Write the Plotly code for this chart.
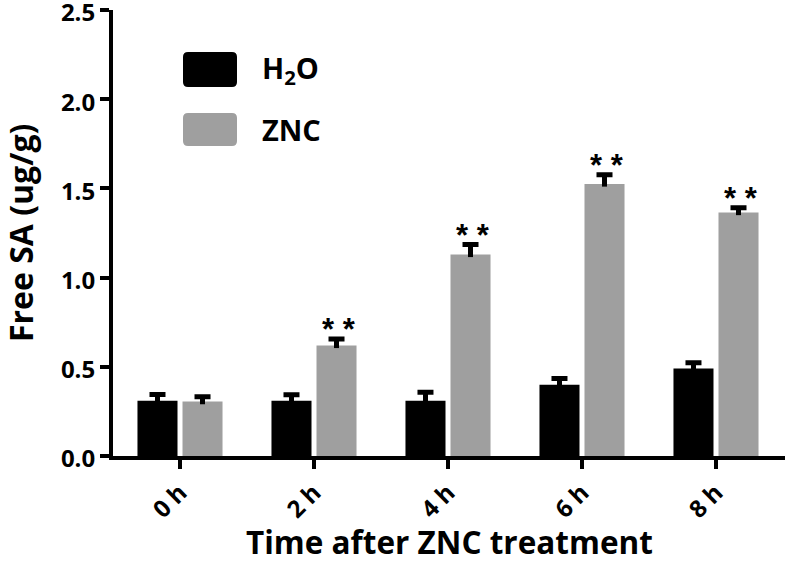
import plotly.graph_objects as go

categories = ["0 h", "2 h", "4 h", "6 h", "8 h"]
h2o = [0.31, 0.31, 0.31, 0.40, 0.49]
h2o_err = [0.035, 0.033, 0.048, 0.035, 0.033]
znc = [0.305, 0.62, 1.13, 1.525, 1.365]
znc_err = [0.027, 0.036, 0.055, 0.051, 0.027]
sig = ["", "* *", "* *", "* *", "* *"]
y_ticks = [0.0, 0.5, 1.0, 1.5, 2.0, 2.5]

BLACK = "#000000"
GRAY = "#9f9f9f"
FONT = "Open Sans"

W, H = 787, 572
ML, MR, MT, MB = 113, 2, 10, 116
PW, PH = W - ML - MR, H - MT - MB

fig = go.Figure()

def add_series(name, vals, errs, color, group):
    # bar with error stem (no caps)
    fig.add_trace(go.Bar(
        x=categories, y=vals, name=name, offsetgroup=group,
        marker=dict(color=color, cornerradius=4, line=dict(width=0)),
        error_y=dict(type="data", array=errs, symmetric=False, arrayminus=[0.015] * len(vals),
                     color=BLACK, thickness=5, width=0),
    ))
    # caps only (zero-length error bar drawn at the top of the error)
    fig.add_trace(go.Bar(
        x=categories, y=[v + e for v, e in zip(vals, errs)], name=name + " cap",
        offsetgroup=group, marker=dict(color="rgba(0,0,0,0)", line=dict(width=0)),
        hoverinfo="skip", showlegend=False,
        error_y=dict(type="data", array=[0] * len(vals), symmetric=True,
                     color=BLACK, thickness=5, width=8),
    ))

add_series("H2O", h2o, h2o_err, BLACK, "h2o")
add_series("ZNC", znc, znc_err, GRAY, "znc")

# significance stars
for c, v, e, s in zip(categories, znc, znc_err, sig):
    if s:
        fig.add_annotation(x=c, y=v + e, xref="x", yref="y", text=s, showarrow=False,
                           xshift=25, yanchor="bottom", yshift=-10,
                           font=dict(family="Liberation Sans", size=31, color=BLACK, weight="bold"))

# custom legend (big rounded swatches)
def px2paper(px, py):
    return (px - ML) / PW, (H - MB - py) / PH

def rounded_rect(x0, y0, x1, y1, r=5):
    def P(x, y):
        a, b = px2paper(x, y)
        return f"{a:.5f},{b:.5f}"
    return (f"M {P(x0 + r, y0)} L {P(x1 - r, y0)} Q {P(x1, y0)} {P(x1, y0 + r)} "
            f"L {P(x1, y1 - r)} Q {P(x1, y1)} {P(x1 - r, y1)} L {P(x0 + r, y1)} "
            f"Q {P(x0, y1)} {P(x0, y1 - r)} L {P(x0, y0 + r)} Q {P(x0, y0)} {P(x0 + r, y0)} Z")

legend_items = [("H<sub>2</sub>O", BLACK, 52, 87), ("ZNC", GRAY, 113, 146)]
for label, col, y0, y1 in legend_items:
    fig.add_shape(type="path", xref="paper", yref="paper", path=rounded_rect(183, y0, 237, y1),
                  fillcolor=col, line=dict(width=0))
    tx, ty = px2paper(260, (y0 + y1) / 2)
    fig.add_annotation(x=tx, y=ty, xref="paper", yref="paper", text=label, showarrow=False,
                       xanchor="left", yanchor="middle",
                       font=dict(family=FONT, size=29, color=BLACK, weight="bold"))

# axis titles as annotations for exact placement
xt, yt = px2paper(448, 541)
fig.add_annotation(x=0.5, y=yt, xref="paper", yref="paper", text="Time after ZNC treatment",
                   showarrow=False, xanchor="center", yanchor="middle",
                   font=dict(family=FONT, size=31.5, color=BLACK, weight="bold"))
xt2, _ = px2paper(20, 0)
fig.add_annotation(x=xt2, y=0.5, xref="paper", yref="paper", text="Free SA (ug/g)",
                   showarrow=False, xanchor="center", yanchor="middle", textangle=-90,
                   font=dict(family=FONT, size=32, color=BLACK, weight="bold"))

fig.update_layout(
    width=W, height=H, autosize=False,
    margin=dict(l=ML, r=MR, t=MT, b=MB, autoexpand=False),
    paper_bgcolor="white", plot_bgcolor="white",
    barmode="group", bargap=0.328, bargroupgap=0.111,
    showlegend=False,
    font=dict(family=FONT, color=BLACK),
)
fig.update_xaxes(
    range=[-0.5, 4.515], showgrid=False, zeroline=False, automargin=False,
    showline=True, linecolor=BLACK, linewidth=4,
    ticks="outside", ticklen=9, tickwidth=4, tickcolor=BLACK,
    tickangle=-45, tickfont=dict(family=FONT, size=24, color=BLACK, weight="bold"),
)
fig.update_yaxes(
    range=[0, 2.5], tickvals=y_ticks, ticktext=[f"{t:.1f}" for t in y_ticks],
    showgrid=False, zeroline=False, automargin=False, ticklabeloverflow="allow",
    ticklabelshift=3,
    showline=True, linecolor=BLACK, linewidth=4,
    ticks="outside", ticklen=9, tickwidth=4, tickcolor=BLACK,
    tickfont=dict(family=FONT, size=24, color=BLACK, weight="bold"),
)

fig.write_html("out.html", config={"displayModeBar": False},
               post_script="document.body.style.margin='0';document.body.style.padding='0';")
